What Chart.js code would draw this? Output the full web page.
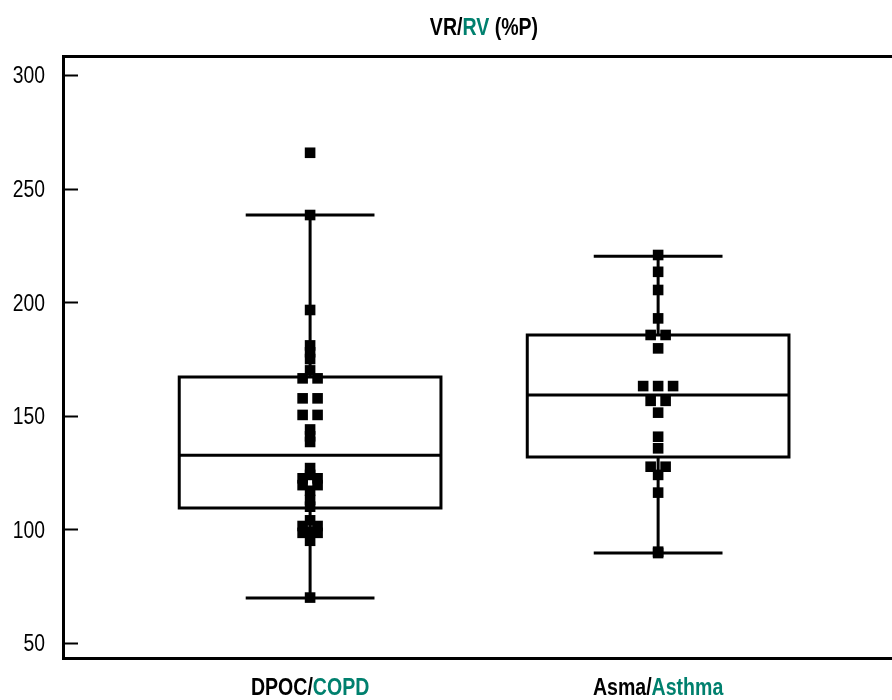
<!DOCTYPE html>
<html>
<head>
<meta charset="utf-8">
<script src="https://cdn.jsdelivr.net/npm/chart.js@4/dist/chart.umd.min.js"></script>
<style>
  html, body { margin: 0; padding: 0; background: #fff; overflow: hidden; }
  #wrap { width: 892px; height: 700px; position: relative; }
</style>
</head>
<body>
<div id="wrap"><canvas id="chart"></canvas></div>
<script>
const groupNames = [["DPOC/", "COPD"], ["Asma/", "Asthma"]];
const yTicks = [50, 100, 150, 200, 250, 300];

// box stats: low whisker, Q1, median, Q3, high whisker
const copdStats = [69.8, 109.4, 132.7, 167.1, 238.4];
const asthmaStats = [89.6, 131.9, 159.2, 185.6, 220.3];

const copdValues = [265.8, 238.4, 196.6, 181, 178, 175, 170, 166.5, 166.5, 157.7, 157.7,
  150.4, 150.4, 144, 141, 138.5, 127, 124, 122.5, 122.5, 119.5, 119.5, 117, 113, 110,
  104, 101.5, 101.5, 99, 98.5, 98.5, 95, 70];
const asthmaValues = [220.8, 213.4, 205.4, 192.9, 185.6, 185.6, 179.7, 163.1, 163.1, 163.1,
  156.6, 156.6, 151.4, 140.8, 135.7, 127.6, 127.6, 124, 116.2, 90.2, 89.6];

const teal = "#00806e";
const fontFamily = "\"Liberation Sans\", Arial, sans-serif";
const boxHalf = 0.376;
const capHalf = 0.185;
const dotStep = 0.043;

// spread equal values side by side, like a dot plot
function swarm(values, center) {
  const counts = {};
  values.forEach((v) => { counts[v] = (counts[v] || 0) + 1; });
  const seen = {};
  return values.map((v) => {
    const n = counts[v];
    const k = seen[v] = (seen[v] || 0) + 1;
    return { x: center + (k - 1 - (n - 1) / 2) * dotStep, y: v };
  });
}

const statsList = [copdStats, asthmaStats];

// narrow text, drawn in coloured pieces
function drawParts(ctx, list, x, y, font, squeeze, align) {
  ctx.save();
  ctx.font = font;
  ctx.textBaseline = "middle";
  ctx.textAlign = "left";
  const w = list.reduce((a, p) => a + ctx.measureText(p[0]).width, 0) * squeeze;
  let px = align === "right" ? x - w : x - w / 2;
  list.forEach((p) => {
    ctx.save();
    ctx.translate(px, y);
    ctx.scale(squeeze, 1);
    ctx.fillStyle = p[1];
    ctx.fillText(p[0], 0, 0);
    ctx.restore();
    px += ctx.measureText(p[0]).width * squeeze;
  });
  ctx.restore();
}

const boxPlugin = {
  id: "boxes",
  beforeDatasetsDraw(chart) {
    const { ctx, chartArea } = chart;
    const x = chart.scales.x;
    const y = chart.scales.y;
    ctx.save();
    ctx.strokeStyle = "#000";
    ctx.lineWidth = 2;
    y.ticks.forEach((t) => {
      const py = Math.round(y.getPixelForValue(t.value)) + 0.5;
      ctx.beginPath();
      ctx.moveTo(chartArea.left, py);
      ctx.lineTo(chartArea.left + 15, py);
      ctx.stroke();
    });
    ctx.lineWidth = 3;
    statsList.forEach((s, i) => {
      const c = i + 1;
      const cx = x.getPixelForValue(c);
      const bl = x.getPixelForValue(c - boxHalf);
      const br = x.getPixelForValue(c + boxHalf);
      const cl = x.getPixelForValue(c - capHalf);
      const cr = x.getPixelForValue(c + capHalf);
      const [lo, q1, med, q3, hi] = s.map((v) => y.getPixelForValue(v));
      ctx.beginPath();
      ctx.rect(bl, q3, br - bl, q1 - q3);
      ctx.moveTo(bl, med); ctx.lineTo(br, med);
      ctx.moveTo(cx, q1); ctx.lineTo(cx, lo);
      ctx.moveTo(cx, q3); ctx.lineTo(cx, hi);
      ctx.moveTo(cl, lo); ctx.lineTo(cr, lo);
      ctx.moveTo(cl, hi); ctx.lineTo(cr, hi);
      ctx.stroke();
    });
    ctx.restore();
  },
  afterDraw(chart) {
    const { ctx } = chart;
    const x = chart.scales.x;
    const y = chart.scales.y;
    const boldFont = "bold 23px " + fontFamily;
    drawParts(ctx, [["VR/", "#000"], ["RV", teal], [" (%P)", "#000"]], 484, 29, boldFont, 0.85, "center");
    groupNames.forEach((g, i) => {
      drawParts(ctx, [[g[0], "#000"], [g[1], teal]], x.getPixelForValue(i + 1), 689, boldFont, 0.85, "center");
    });
    y.ticks.forEach((t) => {
      drawParts(ctx, [[String(t.value), "#000"]], 45, y.getPixelForValue(t.value) + 2,
        "23px " + fontFamily, 0.84, "right");
    });
  }
};

new Chart(document.getElementById("chart"), {
  type: "scatter",
  data: {
    datasets: [
      { data: swarm(copdValues, 1) },
      { data: swarm(asthmaValues, 2) }
    ]
  },
  options: {
    responsive: true,
    maintainAspectRatio: false,
    animation: false,
    layout: { padding: 0, autoPadding: false },
    elements: {
      point: {
        pointStyle: "rect",
        radius: 7.5,
        hoverRadius: 7.5,
        backgroundColor: "#000",
        borderColor: "#000",
        borderWidth: 0
      }
    },
    plugins: {
      legend: { display: false },
      tooltip: { enabled: false }
    },
    scales: {
      x: {
        type: "linear",
        position: "bottom",
        min: 0.29,
        max: 2.672,
        afterFit(scale) { scale.height = 42; },
        grid: { display: false },
        border: { display: true, color: "#000", width: 3 },
        ticks: { display: false }
      },
      x2: {
        type: "linear",
        position: "top",
        min: 0,
        max: 1,
        afterFit(scale) { scale.height = 56; },
        grid: { display: false },
        border: { display: true, color: "#000", width: 3 },
        ticks: { display: false }
      },
      y: {
        type: "linear",
        min: 43.4,
        max: 308.4,
        afterFit(scale) { scale.width = 63; },
        afterBuildTicks(scale) { scale.ticks = yTicks.map((v) => ({ value: v })); },
        grid: { display: false, drawTicks: false },
        border: { display: true, color: "#000", width: 3 },
        ticks: { display: false }
      }
    }
  },
  plugins: [boxPlugin]
});
</script>
</body>
</html>
